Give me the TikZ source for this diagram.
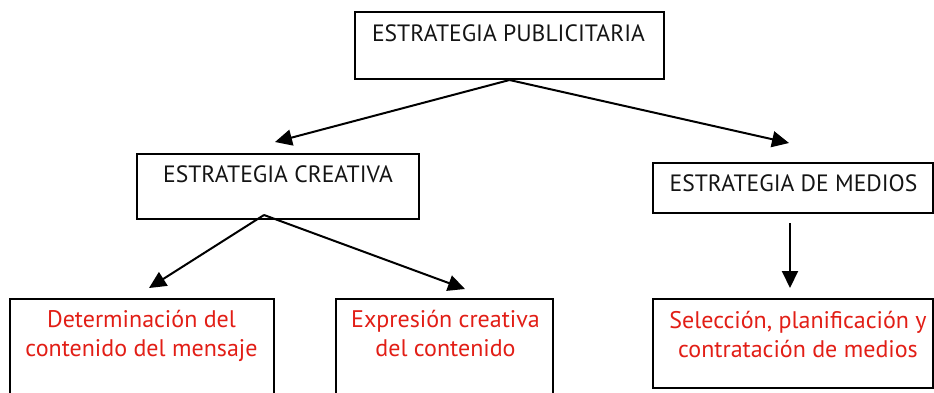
\documentclass[tikz,border=0pt]{standalone}
\usepackage{fontspec}
\setmainfont{PT Sans}
\usetikzlibrary{arrows.meta}
\definecolor{redtxt}{RGB}{226,30,22}
\definecolor{blacktxt}{RGB}{20,20,20}
\begin{document}
\begin{tikzpicture}[x=1pt,y=-1pt,
  box/.style={draw=black,line width=2pt,minimum width=#1,inner sep=0pt},
  blk/.style={font=\fontsize{23.6}{28}\selectfont,text=blacktxt,anchor=base,inner sep=0pt},
  redt/.style={font=\fontsize{24}{29}\selectfont,text=redtxt,anchor=base,inner sep=0pt,align=center},
  conn/.style={line width=2pt,-{Triangle[length=17pt,width=16pt]}}]
\useasboundingbox (0,0) rectangle (934,392);
\fill[white] (0,0) rectangle (934,392);
% boxes
\node[box=309pt,minimum height=67pt] (top) at (509.5,45.5) {};
\node[box=282pt,minimum height=65pt] (crea) at (278,186.5) {};
\node[box=280pt,minimum height=50pt] (med) at (793,188) {};
\node[box=264pt,minimum height=131pt] (det) at (142,364.5) {};
\node[box=217pt,minimum height=131pt] (exp) at (444.5,364.5) {};
\node[box=280pt,minimum height=89pt] (sel) at (793,343.5) {};
% texts
\node[blk] (ttop) at (508.5,41) {ESTRATEGIA PUBLICITARIA};
\node[blk] (tcrea) at (278,182) {ESTRATEGIA CREATIVA};
\node[blk] (tmed) at (793.5,191) {ESTRATEGIA DE MEDIOS};
\node[redt] (tdet) at (141.5,356) {Determinación del\\contenido del mensaje};
\node[redt] (texp) at (445.5,356) {Expresión creativa\\del contenido};
\node[redt] (tsel) at (798,357) {Selección, planificación y\\contratación de medios};
% connector ends
\coordinate (a1) at (275,142);
\coordinate (a2) at (789,143);
\coordinate (cs) at (264,215);
\coordinate (b1) at (149,288);
\coordinate (b2) at (465,289);
\coordinate (ms) at (790,223);
\coordinate (b3) at (790,288);
\draw[conn] (top.south) -- (a1);
\draw[conn] (top.south) -- (a2);
\draw[conn] (cs) -- (b1);
\draw[conn] (cs) -- (b2);
\draw[conn] (ms) -- (b3);
\end{tikzpicture}
\end{document}
